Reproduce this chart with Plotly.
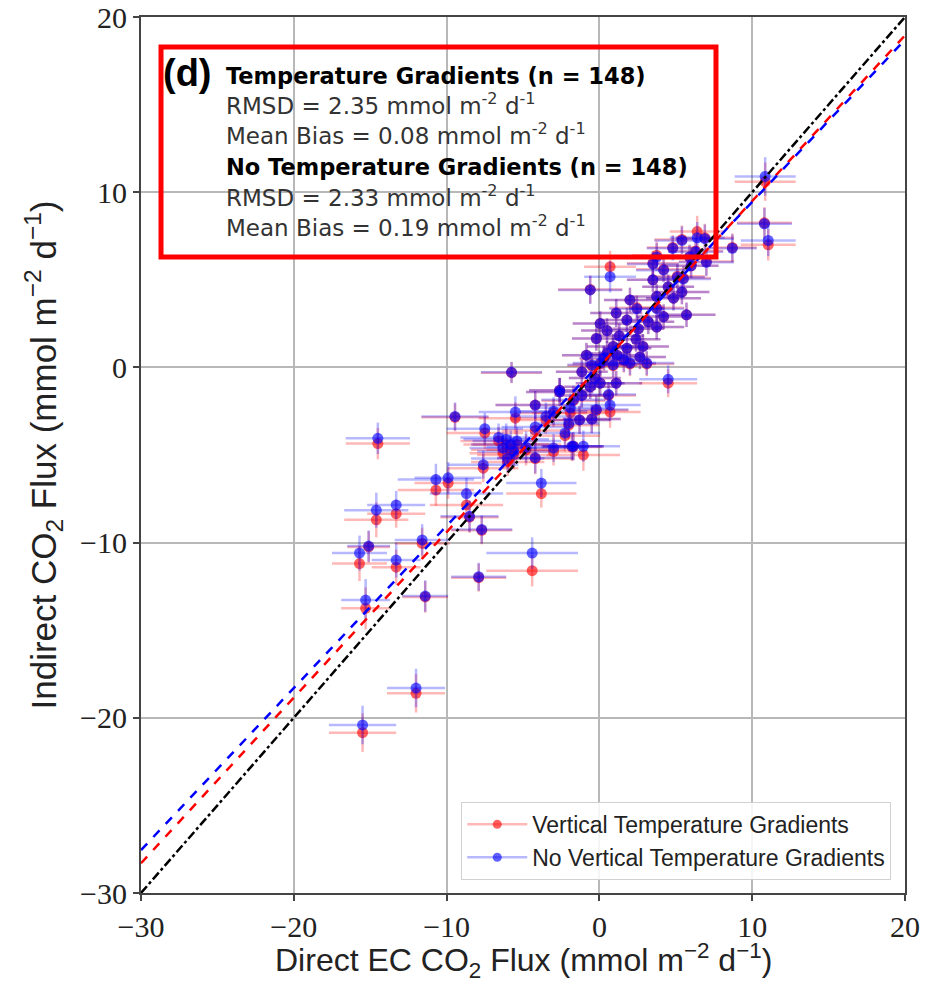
import plotly.graph_objects as go

# ---- data ----
x_direct = [-15.5, -12.0, -15.3, -11.4, -15.7, -15.1, -13.3, -11.6, -7.9, -4.4,
            -14.6, -13.3, -10.7, -9.9, -8.7, -8.5, -7.7, -3.8, -14.5, -9.45,
            -7.5, -7.6, -5.75, -6.1, -5.8, -5.6, -6.3, -5.4, -6.6, -5.5,
            -4.2, -4.2, -4.2, -2.6, -2.25, -1.7, -1.05, -1.8, -1.9, -0.2,
            0.7, -1.3, -0.5, -2.6, -1.7, -1.15, -0.6, 0.05, 1.1, 4.5,
            -1.15, -0.5, 0.05, 0.9, 2.0, 3.1, 2.65, -0.85, 0.5, 1.15,
            0.3, 0.9, 1.8, 2.85, -0.2, 0.05, 0.5, 1.8, 2.55, 3.75,
            4.2, 5.7, 1.1, 2.45, 3.75, 2.0, 4.85, 5.4, 3.75, -0.6,
            3.5, 5.1, 5.5, 4.2, 3.5, 0.7, 7.0, 6.3, 4.8, 3.75,
            5.4, 6.4, 6.9, 8.7, 10.8, 11.05, 10.85, -3.0, -3.5, -2.0,
            -4.8, -6.0, -3.0, 1.6, 2.4, 3.2, 4.5, 6.0, 5.9, -0.3,
            0.6, 1.3]
y_red = [-20.85, -18.6, -13.75, -13.1, -11.2, -10.25, -11.4, -10.05, -12.0, -11.6,
         -8.7, -8.35, -7.0, -6.6, -7.85, -8.55, -9.3, -7.2, -4.35, -2.85,
         -3.75, -5.75, -0.3, -4.4, -4.7, -5.0, -4.9, -4.4, -4.2, -2.9,
         -2.15, -3.6, -5.2, -1.4, -3.9, -4.5, -5.0, -4.55, -2.6, -2.45,
         -2.55, -3.0, -2.95, -1.3, -1.9, -1.6, -1.1, -0.9, -0.9, -0.9,
         -0.25, 0.1, 0.2, 0.1, 0.2, 0.2, 0.6, 0.7, 0.8, 0.7,
         0.5, 1.2, 1.1, 1.2, 1.65, 2.5, 2.1, 2.7, 2.2, 2.3,
         2.9, 3.0, 3.1, 3.4, 3.4, 3.85, 3.95, 4.3, 4.05, 4.45,
         5.0, 5.2, 5.1, 5.6, 5.95, 5.75, 6.05, 6.65, 6.85, 6.4,
         7.3, 7.75, 7.4, 6.85, 8.25, 7.0, 10.6, -2.6, -3.0, -3.3,
         -4.7, -5.4, -4.8, 0.4, 1.6, 2.6, 4.6, 5.8, 6.3, -0.6,
         -1.6, 1.8]
y_blue = [-20.41, -18.3, -13.28, -13.05, -10.6, -10.2, -11.0, -9.85, -11.95, -10.6,
          -8.15, -7.85, -6.4, -6.3, -7.2, -8.5, -9.25, -6.6, -4.05, -2.8,
          -3.5, -5.55, -0.28, -4.1, -4.4, -4.8, -4.6, -4.2, -4.0, -2.55,
          -2.15, -3.4, -5.15, -1.4, -3.75, -4.5, -4.5, -4.5, -2.3, -2.4,
          -2.15, -3.0, -2.95, -1.3, -1.85, -1.6, -1.1, -0.9, -0.9, -0.68,
          -0.25, 0.15, 0.25, 0.15, 0.25, 0.25, 0.6, 0.7, 0.8, 0.7,
          0.55, 1.2, 1.1, 1.2, 1.65, 2.5, 2.1, 2.7, 2.2, 2.3,
          2.9, 3.0, 3.1, 3.35, 3.35, 3.85, 3.95, 4.3, 4.05, 4.42,
          5.0, 5.15, 5.05, 5.55, 5.9, 5.18, 6.0, 6.6, 6.8, 6.3,
          7.25, 7.4, 7.35, 6.8, 8.2, 7.25, 10.9, -2.5, -2.8, -3.2,
          -4.55, -5.2, -4.6, 0.45, 1.6, 2.6, 4.6, 5.8, 6.3, -0.6,
          -1.55, 1.8]
x_err = [2.2, 1.9, 1.6, 1.5, 1.8, 1.4, 1.6, 1.8, 1.8, 3.0,
         2.1, 1.9, 2.5, 2.2, 2.4, 1.9, 2.0, 2.3, 2.1, 2.2,
         2.5, 2.3, 2.0, 2.8, 2.6, 2.4, 2.2, 2.9, 2.5, 2.4,
         2.6, 2.2, 2.5, 2.2, 2.3, 2.0, 2.4, 2.0, 2.5, 2.1,
         2.0, 2.0, 1.9, 2.0, 2.1, 1.8, 1.7, 1.6, 1.7, 1.9,
         1.7, 1.6, 1.8, 1.6, 1.7, 1.8, 1.7, 1.6, 1.5, 1.7,
         1.6, 1.7, 1.6, 1.7, 1.6, 1.8, 1.7, 1.7, 1.7, 1.8,
         1.8, 1.9, 1.7, 1.8, 1.8, 1.7, 1.8, 1.8, 1.8, 2.1,
         1.7, 1.8, 1.8, 1.8, 1.7, 1.7, 1.8, 1.8, 1.7, 1.6,
         1.8, 1.8, 1.9, 1.6, 1.8, 1.8, 2.0, 2.2, 2.3, 2.0,
         2.6, 2.4, 2.2, 1.7, 1.6, 1.7, 1.7, 1.8, 1.8, 1.7,
         1.8, 1.6]
y_err = [1.1, 1.1, 1.2, 0.9, 1.0, 0.9, 1.0, 0.9, 0.8, 0.9,
         1.0, 0.8, 0.9, 0.9, 0.9, 0.9, 0.8, 0.8, 0.9, 0.8,
         0.9, 0.8, 0.6, 0.9, 0.8, 0.8, 0.9, 0.8, 0.8, 0.9,
         0.8, 0.8, 0.9, 0.8, 0.9, 0.8, 0.9, 0.8, 0.8, 0.8,
         0.9, 0.8, 0.8, 0.7, 0.8, 0.7, 0.7, 0.7, 0.7, 0.8,
         0.7, 0.7, 0.7, 0.7, 0.7, 0.7, 0.7, 0.7, 0.7, 0.7,
         0.7, 0.7, 0.7, 0.7, 0.7, 0.7, 0.7, 0.7, 0.7, 0.7,
         0.7, 0.7, 0.8, 0.7, 0.7, 0.7, 0.7, 0.7, 0.7, 0.8,
         0.7, 0.7, 0.7, 0.7, 0.7, 0.9, 0.8, 0.8, 0.7, 0.8,
         0.8, 0.9, 0.8, 0.8, 0.9, 0.9, 1.1, 0.8, 0.8, 0.8,
         0.9, 0.8, 0.8, 0.7, 0.7, 0.7, 0.7, 0.7, 0.7, 0.7,
         0.7, 0.7]

# linear fits (slope, intercept) and 1:1 line, evaluated across the axis range
axis_range = [-30, 20]
fit_red = (0.945, 0.05)
fit_blue = (0.925, 0.2)

tick_vals = [-30, -20, -10, 0, 10, 20]
tick_text = ["\u221230", "\u221220", "\u221210", "0", "10", "20"]

x_title = "Direct EC CO<sub>2</sub> Flux (mmol m<sup>\u22122</sup> d<sup>\u22121</sup>)"
y_title = "Indirect CO<sub>2</sub> Flux (mmol m<sup>\u22122</sup> d<sup>\u22121</sup>)"
series_names = ["Vertical Temperature Gradients", "No Vertical Temperature Gradients"]
stats_lines = [
    ("<b>Temperature Gradients (n = 148)</b>", True),
    ("RMSD = 2.35 mmol m<sup>-2</sup> d<sup>-1</sup>", False),
    ("Mean Bias = 0.08 mmol m<sup>-2</sup> d<sup>-1</sup>", False),
    ("<b>No Temperature Gradients (n = 148)</b>", True),
    ("RMSD = 2.33 mmol m<sup>-2</sup> d<sup>-1</sup>", False),
    ("Mean Bias = 0.19 mmol m<sup>-2</sup> d<sup>-1</sup>", False),
]

# ---- styling ----
SANS = "Liberation Sans, Arial, sans-serif"
WIDE_SANS = "DejaVu Sans, Liberation Sans, sans-serif"
SERIF = "Liberation Serif, DejaVu Serif, serif"
RED_M = "rgba(255,0,0,0.62)"
BLUE_M = "rgba(0,0,255,0.62)"
RED_E = "rgba(255,0,0,0.28)"
BLUE_E = "rgba(0,0,255,0.28)"

fig = go.Figure()

for yv, mc, ec in [(y_red, RED_M, RED_E), (y_blue, BLUE_M, BLUE_E)]:
    fig.add_trace(go.Scatter(
        x=x_direct, y=yv, mode="markers", showlegend=False,
        marker=dict(size=11, color=mc, line=dict(width=0)),
        error_x=dict(type="data", array=x_err, color=ec, thickness=2.5, width=0),
        error_y=dict(type="data", array=y_err, color=ec, thickness=2.5, width=0),
    ))

# fit lines and 1:1 line
fig.add_trace(go.Scatter(x=axis_range, y=axis_range, mode="lines", showlegend=False,
                         line=dict(color="black", width=2.5, dash="dashdot")))
fig.add_trace(go.Scatter(x=axis_range, y=[fit_red[0] * v + fit_red[1] for v in axis_range],
                         mode="lines", showlegend=False,
                         line=dict(color="red", width=2.5, dash="dash")))
fig.add_trace(go.Scatter(x=axis_range, y=[fit_blue[0] * v + fit_blue[1] for v in axis_range],
                         mode="lines", showlegend=False,
                         line=dict(color="blue", width=2.5, dash="dash")))

# legend entries
for name, mc, ec in [(series_names[0], RED_M, RED_E), (series_names[1], BLUE_M, BLUE_E)]:
    fig.add_trace(go.Scatter(x=[None], y=[None], mode="lines+markers", name=name,
                             marker=dict(size=9, color=mc),
                             line=dict(color=ec, width=2.5)))

# stats text
ys = [0.9326, 0.9007, 0.8664, 0.8288, 0.7957, 0.7614]
anns = [dict(text="<b>(d)</b>", x=0.0262, y=0.936, xref="paper", yref="paper",
             xanchor="left", yanchor="middle", showarrow=False,
             font=dict(family=SANS, size=38, color="black"))]
for (txt, bold), yy in zip(stats_lines, ys):
    anns.append(dict(text=txt, x=0.1086, y=yy, xref="paper", yref="paper",
                     xanchor="left", yanchor="middle", showarrow=False,
                     font=dict(family=WIDE_SANS, size=22.5 if bold else 23,
                               color="black" if bold else "#333")))
# x-axis title placed below the tick labels
anns.append(dict(text=x_title, x=0.5, y=-0.1039, xref="paper", yref="paper",
                 xanchor="center", yanchor="bottom", showarrow=False, borderpad=0,
                 font=dict(family=SANS, size=32, color="#222")))

fig.update_layout(
    width=932, height=984,
    margin=dict(l=141, r=27, t=17, b=91),
    plot_bgcolor="white", paper_bgcolor="white",
    annotations=anns,
    shapes=[dict(type="rect", xref="paper", yref="paper",
                 x0=0.0262, x1=0.7526, y0=0.726, y1=0.9658,
                 line=dict(color="red", width=5))],
    legend=dict(x=0.982, y=0.015, xanchor="right", yanchor="bottom",
                bgcolor="rgba(255,255,255,0.85)", bordercolor="#d0d0d0", borderwidth=1,
                font=dict(family=SANS, size=23, color="#222"),
                itemwidth=60, tracegroupgap=2),
)

axis_common = dict(
    range=axis_range, tickvals=tick_vals, ticktext=tick_text,
    showgrid=True, gridcolor="#b8b8b8", gridwidth=1.5, zeroline=False,
    showline=True, mirror=True, linecolor="#444", linewidth=2,
    ticks="outside", ticklen=6, tickwidth=2, tickcolor="#444",
    ticklabeloverflow="allow", automargin=False,
    tickfont=dict(family=SERIF, size=30, color="#222"),
)
fig.update_xaxes(**axis_common)
fig.update_yaxes(**axis_common,
                 title=dict(text=y_title, font=dict(family=SANS, size=35, color="#222"), standoff=13))

fig.write_html("out.html")
